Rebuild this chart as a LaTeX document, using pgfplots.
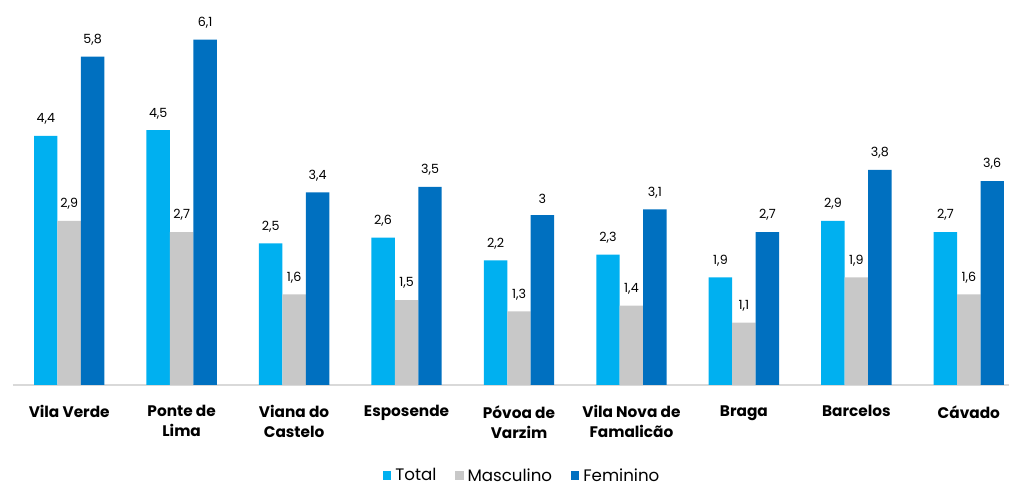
\documentclass[border=0pt]{standalone}
\usepackage{fontspec}
\setmainfont{Poppins}
\usepackage{pgfplots}
\pgfplotsset{compat=1.18}
\definecolor{cTot}{HTML}{00B0F0}
\definecolor{cMas}{HTML}{C8C8C8}
\definecolor{cFem}{HTML}{0070C0}
\begin{document}
\begin{tikzpicture}
\begin{axis}[
  scale only axis,
  width=748pt, height=289pt,
  xmin=-0.5, xmax=8.36,
  ymin=0, ymax=6.8,
  ybar=0pt, bar width=17.6pt,
  axis x line*=bottom,
  axis y line=none,
  x axis line style={draw=black!15, line width=1.1pt},
  xtick={0,...,8},
  xtick style={draw=none},
  xticklabels={Vila Verde, Ponte de\\Lima, Viana do\\Castelo, Esposende, P\'ovoa de\\Varzim, Vila Nova de\\Famalic\~ao, Braga, Barcelos, C\'avado},
  xticklabel style={align=center, font=\fontsize{11.5}{15}\selectfont\bfseries, yshift=-7.5pt},
  nodes near coords,
  nodes near coords style={font=\fontsize{9.5}{11}\selectfont, anchor=south, yshift=5pt, /pgf/number format/use comma, /pgf/number format/fixed, /pgf/number format/assume math mode=true},
  enlarge x limits=false,
  clip=false,
  legend style={at={(0.512,-0.236)}, anchor=center, draw=none, legend columns=3, font=\fontsize{12.5}{14}\selectfont, nodes={inner xsep=3pt, inner ysep=1.5pt}, /tikz/every even column/.append style={column sep=11pt}},
  legend image code/.code={\fill[#1] (0pt,-3pt) rectangle (6.4pt,3.4pt);},
]
\addplot[fill=cTot, draw=none] coordinates {(0,4.4) (1,4.5) (2,2.5) (3,2.6) (4,2.2) (5,2.3) (6,1.9) (7,2.9) (8,2.7)};
\addplot[fill=cMas, draw=none] coordinates {(0,2.9) (1,2.7) (2,1.6) (3,1.5) (4,1.3) (5,1.4) (6,1.1) (7,1.9) (8,1.6)};
\addplot[fill=cFem, draw=none] coordinates {(0,5.8) (1,6.1) (2,3.4) (3,3.5) (4,3.0) (5,3.1) (6,2.7) (7,3.8) (8,3.6)};
\legend{Total, Masculino, Feminino}
\end{axis}
\path ([xshift=-9.75pt]current axis.south west) rectangle (current axis.north east);
\end{tikzpicture}
\end{document}
